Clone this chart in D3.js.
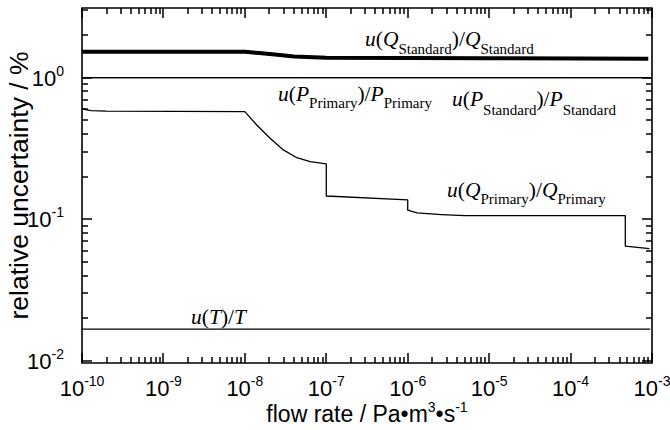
<!DOCTYPE html>
<html>
<head>
<meta charset="utf-8">
<script src="https://cdn.jsdelivr.net/npm/d3@7"></script>
<style>
  body { margin: 0; background: #fff; }
  .tick-label { font-family: "Liberation Sans", Arial, sans-serif; }
  .note { font-family: "Liberation Serif", "Times New Roman", serif; }
</style>
</head>
<body>
<div id="chart"></div>
<script>
// decades shown on the axes
const xDecades = [-10, -9, -8, -7, -6, -5, -4, -3];
const yDecades = [-2, -1, 0];

// u(Q_Standard)/Q_Standard
const qStdX = [1e-10, 1e-8, 1.5e-8, 2.5e-8, 4e-8, 7e-8, 1e-7, 1e-5, 9e-4];
const qStdY = [1.52, 1.52, 1.49, 1.45, 1.41, 1.39, 1.38, 1.37, 1.36];

// u(P_Primary)/P_Primary and u(P_Standard)/P_Standard (they coincide)
const pPrimX = [1e-10, 1e-3];
const pPrimY = [1.0, 1.0];
const pStdX = [1e-10, 1e-3];
const pStdY = [1.0, 1.0];

// u(Q_Primary)/Q_Primary
const qPrimX = [1e-10, 1.1e-10, 1.3e-10, 2e-10, 1e-8, 1.4e-8, 2.04e-8, 2.97e-8, 4.34e-8, 6.33e-8, 1e-7,
  1e-7, 1e-6, 1e-6, 1.3e-6, 2.6e-6, 5e-6, 4.7e-4, 4.7e-4, 9.3e-4];
const qPrimY = [0.61, 0.595, 0.585, 0.58, 0.575, 0.463, 0.373, 0.309, 0.272, 0.255, 0.246,
  0.146, 0.137, 0.116, 0.111, 0.108, 0.106, 0.106, 0.0647, 0.062];

// u(T)/T
const tempX = [1e-10, 9.5e-4];
const tempY = [0.0168, 0.0168];

const width = 670, height = 430;
const margin = {left: 82, right: 18, top: 8, bottom: 67};

const svg = d3.select('#chart').append('svg')
  .attr('width', width)
  .attr('height', height);

const x = d3.scaleLog()
  .domain([1e-10, 1e-3])
  .range([margin.left, width - margin.right]);
const y = d3.scaleLog()
  .domain([0.00968, 3.1])
  .range([height - margin.bottom, margin.top]);

function minorTicks(lo, hi) {
  let out = [];
  for (let p = lo; p < hi; p++) {
    for (let k = 2; k <= 9; k++) out.push(k * Math.pow(10, p));
  }
  return out;
}
const xMajor = xDecades.map(p => Math.pow(10, p));
const xMinor = minorTicks(-10, -3);
const yMajor = yDecades.map(p => Math.pow(10, p));
const yMinor = minorTicks(-3, 1).filter(v => v >= y.domain()[0] && v <= y.domain()[1]);

const bottomY = height - margin.bottom, rightX = width - margin.right;

// frame
svg.append('path')
  .attr('d', `M${margin.left},${margin.top}H${rightX}V${bottomY}H${margin.left}Z`)
  .attr('fill', 'none').attr('stroke', '#000').attr('stroke-width', 1.6);

// ticks on all four sides, pointing inward, as one path
let tickPath = d3.path();
function xTicks(values, len) {
  values.forEach(v => {
    const px = Math.round(x(v));
    tickPath.moveTo(px, bottomY); tickPath.lineTo(px, bottomY - len);
    tickPath.moveTo(px, margin.top); tickPath.lineTo(px, margin.top + len);
  });
}
function yTicks(values, len) {
  values.forEach(v => {
    const py = Math.round(y(v));
    tickPath.moveTo(margin.left, py); tickPath.lineTo(margin.left + len, py);
    tickPath.moveTo(rightX, py); tickPath.lineTo(rightX - len, py);
  });
}
xTicks(xMajor, 10);
xTicks(xMinor, 6);
yTicks(yMajor, 10);
yTicks(yMinor, 6);
svg.append('path')
  .attr('d', tickPath.toString())
  .attr('fill', 'none').attr('stroke', '#000').attr('stroke-width', 1.5);

// tick labels 10^n
function powLabel(sel, p) {
  sel.append('tspan').attr('font-size', 22).text('10');
  sel.append('tspan').attr('font-size', 14).attr('dy', -10).text(p);
}
xDecades.forEach(p => {
  const t = svg.append('text').attr('class', 'tick-label')
    .attr('x', x(Math.pow(10, p))).attr('y', bottomY + 33)
    .attr('text-anchor', 'middle');
  powLabel(t, p);
});
yDecades.forEach(p => {
  const t = svg.append('text').attr('class', 'tick-label')
    .attr('x', margin.left - 18).attr('y', y(Math.pow(10, p)) + 8)
    .attr('text-anchor', 'end');
  powLabel(t, p);
});

// axis titles
const xt = svg.append('text').attr('class', 'tick-label')
  .attr('x', (margin.left + rightX) / 2).attr('y', height - 8)
  .attr('text-anchor', 'middle').attr('font-size', 23);
xt.append('tspan').text('flow rate / Pa•m');
xt.append('tspan').attr('font-size', 14).attr('dy', -10).text('3');
xt.append('tspan').attr('dy', 10).text('•s');
xt.append('tspan').attr('font-size', 14).attr('dy', -10).text('-1');

svg.append('text').attr('class', 'tick-label')
  .attr('transform', `translate(28,${(margin.top + bottomY) / 2}) rotate(-90)`)
  .attr('text-anchor', 'middle').attr('font-size', 26.5)
  .text('relative uncertainty / %');

// curves
const line = d3.line().x(d => x(d[0])).y(d => y(d[1]));
function drawSeries(xs, ys, w) {
  svg.append('path')
    .datum(xs.map((v, i) => [v, ys[i]]))
    .attr('d', line)
    .attr('fill', 'none').attr('stroke', '#000')
    .attr('stroke-width', w).attr('stroke-linejoin', 'round');
}
drawSeries(pPrimX, pPrimY, 1.3);
drawSeries(pStdX, pStdY, 1.3);
drawSeries(qPrimX, qPrimY, 1.3);
drawSeries(tempX, tempY, 1.3);
drawSeries(qStdX, qStdY, 4);

// curve labels: parts are [text, kind] with kind i (italic), r (roman), s (subscript)
function note(px, py, parts, shift) {
  const t = svg.append('text').attr('class', 'note')
    .attr('x', px).attr('y', py).attr('font-size', 21.5);
  let cur = 0;
  parts.forEach(([txt, kind]) => {
    const target = kind === 's' ? shift : 0;
    const ts = t.append('tspan').text(txt).attr('dy', target - cur);
    cur = target;
    if (kind === 'i') ts.attr('font-style', 'italic');
    if (kind === 's') ts.attr('font-size', 15);
  });
}
function ratio(sym, sub) {
  return [['u', 'i'], ['(', 'r'], [sym, 'i'], [sub, 's'], [')/', 'r'], [sym, 'i'], [sub, 's']];
}
note(365, 46, ratio('Q', 'Standard'), 8);
note(278, 101, ratio('P', 'Primary'), 6.5);
note(452, 106, ratio('P', 'Standard'), 9);
note(447, 197, ratio('Q', 'Primary'), 7);
note(191, 324, [['u', 'i'], ['(', 'r'], ['T', 'i'], [')/', 'r'], ['T', 'i']], 0);
</script>
</body>
</html>
